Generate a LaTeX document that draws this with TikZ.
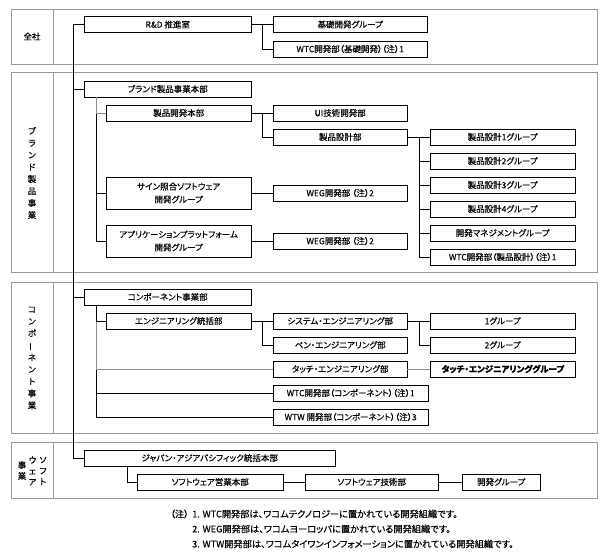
\documentclass[tikz,border=0pt]{standalone}
\usepackage{fontspec}
\setmainfont{Noto Sans CJK JP}[RawFeature=+palt, FakeBold=0.3]
\tikzset{
  box/.style={draw, anchor=west, inner sep=0pt, minimum height=16pt, align=center,
    font=\fontsize{8.5}{13}\selectfont},
  frame/.style={draw=black!40},
  softlink/.style={draw=black!45},
  seclabel/.style={inner sep=0pt, align=center, font=\fontsize{8.5}{12}\selectfont},
  note/.style={anchor=west, inner sep=0pt, font=\fontsize{9.2}{10}\selectfont}
}

\begin{document}
\begin{tikzpicture}[x=1pt, y=-1pt, thin]
\useasboundingbox (0,0) rectangle (607,556);
% Section frames
    \foreach \top/\bot in {9/64, 72/272, 282/433, 442/498} {
        \draw[frame] (11,\top) rectangle (597,\bot);
        \draw[frame] (53,\top) -- (53,\bot);
    }
% Section labels
    \node[seclabel] (lab1) at (32,36.5) {全社};
    \node[seclabel] (lab2) at (32,173) {ブ\\ラ\\ン\\ド\\製\\品\\事\\業};
    \node[seclabel] (lab3) at (32,358) {コ\\ン\\ポ\\\rotatebox[origin=c]{90}{ー}\\ネ\\ン\\ト\\事\\業};
    \node[seclabel, font=\fontsize{8.5}{11}\selectfont] (lab4a) at (22,470.5) {事\\業};
    \node[seclabel, font=\fontsize{8.5}{11}\selectfont] (lab4b) at (32.5,471) {ウ\\ェ\\ア};
    \node[seclabel, font=\fontsize{8.5}{11}\selectfont] (lab4c) at (43,471) {ソ\\フ\\ト};
% Corporate
    \node[box, minimum width=167] (rd) at (84,24.5) {R\&D 推進室};
    \node[box, minimum width=154] (kiso) at (273,24.5) {基礎開発グループ};
    \node[box, minimum width=154] (wtcA) at (273,49) {WTC開発部（基礎開発）（注）1};
% Brand products
    \node[box, minimum width=167] (brand) at (84,89) {ブランド製品事業本部};
    \node[box, minimum width=145] (pdev) at (106,113) {製品開発本部};
    \node[box, minimum width=145, minimum height=32pt] (sign) at (106,193) {サイン照合ソフトウェア\\開発グループ};
    \node[box, minimum width=145, minimum height=32pt] (app) at (106,241) {アプリケーションプラットフォーム\\開発グループ};
    \node[box, minimum width=134] (ui) at (273,113) {UI技術開発部};
    \node[box, minimum width=134] (pdes) at (273,137) {製品設計部};
    \node[box, minimum width=134] (weg1) at (273,193) {WEG開発部 （注）2};
    \node[box, minimum width=134] (weg2) at (273,241) {WEG開発部 （注）2};
    \foreach \n/\y/\t in {g1/137/製品設計1グループ, g2/161/製品設計2グループ,
        g3/185/製品設計3グループ, g4/209/製品設計4グループ,
        g5/233/開発マネジメントグループ, g6/257/WTC開発部（製品設計）（注）1}
        \node[box, minimum width=145] (\n) at (430,\y) {\t};
% Components
    \node[box, minimum width=167] (comp) at (84,297) {コンポーネント事業部};
    \node[box, minimum width=145] (eng) at (106,321) {エンジニアリング統括部};
    \node[box, minimum width=134] (sys) at (273,321) {システム・エンジニアリング部};
    \node[box, minimum width=134] (pen) at (273,345) {ペン・エンジニアリング部};
    \node[box, minimum width=145] (grp1) at (430,321) {1グループ};
    \node[box, minimum width=145] (grp2) at (430,345) {2グループ};
    \node[box, minimum width=134] (touch) at (273,369) {タッチ・エンジニアリング部};
    \node[box, minimum width=145, line width=0.9pt, font=\fontsize{8.5}{13}\selectfont\bfseries] (touchg) at (430,369) {タッチ・エンジニアリンググループ};
    \node[box, minimum width=155] (wtcC) at (273,393) {WTC開発部（コンポーネント）（注）1};
    \node[box, minimum width=155] (wtw) at (273,417) {WTW 開発部（コンポーネント）（注）3};
% Software
    \node[box, minimum width=251] (jp) at (84,458) {ジャパン・アジアパシフィック統括本部};
    \node[box, minimum width=146] (sales) at (137,482) {ソフトウェア営業本部};
    \node[box, minimum width=133] (swtech) at (305,482) {ソフトウェア技術部};
    \node[box, minimum width=78] (devg) at (462,482) {開発グループ};
% Trunk
    \draw (rd.west) -- ++(-11,0) |- (jp.west);
    \draw (brand.west) -- ++(-11,0);
    \draw (comp.west) -- ++(-11,0);
% Links
    \draw (rd.east) -- (kiso.west);
    \draw (rd.east) ++(11,0) |- (wtcA.west);
    \draw ([xshift=12pt]brand.south west) |- (app.west);
    \draw ([xshift=12pt]brand.south west) |- (sign.west);
    \draw[softlink] ([xshift=12pt]brand.south west) |- (pdev.west);
    \draw (pdev.east) -- (ui.west);
    \draw (pdev.east) ++(11,0) |- (pdes.west);
    \draw (sign.east) -- (weg1.west);
    \draw (app.east) -- (weg2.west);
    \draw (pdes.east) -- (g1.west);
    \foreach \n in {g2,g3,g4,g5,g6}
        \draw (pdes.east) ++(12,0) |- (\n.west);
    \draw ([xshift=12pt]comp.south west) |- (wtw.west);
    \draw ([xshift=12pt]comp.south west) |- (wtcC.west);
    \draw[softlink] ([xshift=12pt]comp.south west) |- (touch.west);
    \draw ([xshift=12pt]comp.south west) |- (eng.west);
    \draw (eng.east) -- (sys.west);
    \draw (eng.east) ++(11,0) |- (pen.west);
    \draw (sys.east) -- (grp1.west);
    \draw (sys.east) ++(12,0) |- (grp2.west);
    \draw[softlink] (touch.east) -- (touchg.west);
    \draw ([xshift=43pt]jp.south west) |- (sales.west);
    \draw (sales.east) -- (swtech.west);
    \draw (swtech.east) -- (devg.west);
% Notes
    \node[note] (n1) at (192,514) {1. WTC開発部は、ワコムテクノロジーに置かれている開発組織です。};
    \node[note, anchor=east] (nt) at ([xshift=-3pt]n1.west) {（注）};
    \node[note] (n2) at (192,529) {2. WEG開発部は、ワコムヨーロッパに置かれている開発組織です。};
    \node[note] (n3) at (192,544) {3. WTW開発部は、ワコムタイワンインフォメーションに置かれている開発組織です。};
\end{tikzpicture}
\end{document}
